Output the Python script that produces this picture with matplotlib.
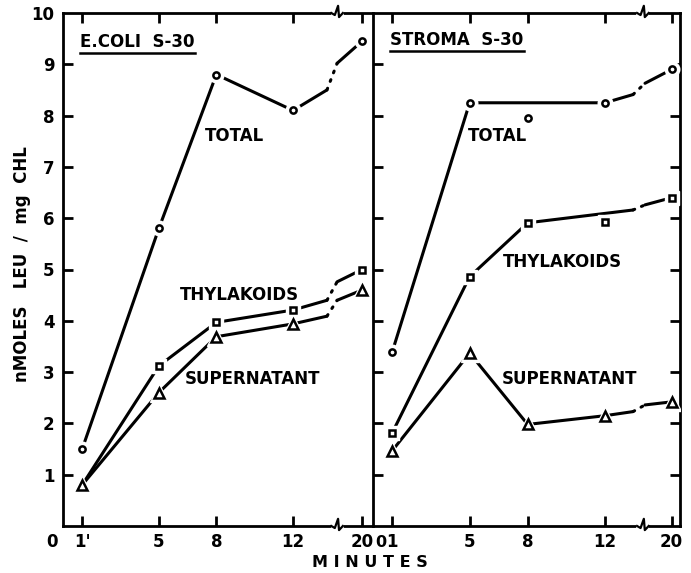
import matplotlib
matplotlib.use('Agg')
import matplotlib.pyplot as plt
from matplotlib.lines import Line2D

#%% data (nmoles leu / mg chl vs minutes)
minutes = [1, 5, 8, 12, 20]
xlabels_ecoli = ["1'", '5', '8', '12', '20']
xlabels_stroma = ['1', '5', '8', '12', '20']

ecoli_total = [1.5, 5.8, 8.8, 8.1, 9.45]
ecoli_thyl = [0.8, 3.12, 3.97, 4.21, 5.0]
ecoli_super = [0.8, 2.6, 3.69, 3.94, 4.6]

stroma_total = [3.4, 8.25, 7.95, 8.25, 8.9]
stroma_thyl = [1.82, 4.86, 5.91, 5.93, 6.4]
stroma_super = [1.47, 3.37, 1.98, 2.15, 2.42]

# levels where the dotted part across the axis break starts / ends
ecoli_brk_levels = {'total': (8.5, 9.02), 'thyl': (4.4, 4.76), 'super': (4.09, 4.4)}
stroma_brk_levels = {'total': (8.41, 8.63), 'thyl': (6.16, 6.26), 'super': (2.23, 2.36)}

#%% helpers
LW = 2.2


def xpos(t, p20):
    # broken axis: everything past 12 min is squeezed
    return t if t <= 12 else 12 + (t - 12) * (p20 - 12) / 8.0


def draw_series(ax, vals, marker, ms, p20, brk, levels, line_skip=(), marker_skip=()):
    xp = [xpos(t, p20) for t in minutes]
    on = [i for i in range(len(vals)) if i not in line_skip and minutes[i] <= 12]
    xs = [xp[i] for i in on] + [brk[0]]
    ys = [vals[i] for i in on] + [levels[0]]
    ax.plot(xs, ys, color='k', lw=LW, solid_capstyle='round', zorder=2)
    ax.plot([brk[0], brk[1]], levels, color='k', lw=LW, ls=(0, (0.6, 2.4)),
            dash_capstyle='round', zorder=2)
    ax.plot([brk[1], xp[-1]], [levels[1], vals[-1]], color='k', lw=LW,
            solid_capstyle='round', zorder=2)
    mx = [xp[i] for i in range(len(vals)) if i not in marker_skip]
    my = [vals[i] for i in range(len(vals)) if i not in marker_skip]
    ax.plot(mx, my, ls='none', marker=marker, ms=ms + 6, mfc='white', mec='white', zorder=3)
    ax.plot(mx, my, ls='none', marker=marker, ms=ms, mfc='white', mec='k', mew=1.8, zorder=4)


def break_mark(ax, xb):
    for y0, s in [(1.0, 1), (0.0, -1)]:
        tr = ax.get_xaxis_transform()
        ax.plot([xb - 0.18, xb + 0.18], [y0, y0], color='white', lw=4, transform=tr,
                clip_on=False, zorder=5)
        ax.plot([xb - 0.3, xb - 0.12, xb + 0.05, xb + 0.1, xb + 0.3],
                [y0, y0 - 0.004, y0 + 0.014, y0 - 0.008, y0],
                color='k', lw=1.6, transform=tr, clip_on=False, zorder=6)


def style_axis(ax, p20, labels, xmax):
    ax.set_xlim(0, xmax)
    ax.set_ylim(0, 10)
    ax.set_xticks([xpos(t, p20) for t in minutes])
    ax.set_xticklabels(labels, fontsize=12, fontweight='bold')
    ax.set_yticks(range(1, 10))
    ax.tick_params(axis='both', direction='in', length=7, width=2, top=True, bottom=True)
    ax.tick_params(axis='x', pad=5)
    for sp in ax.spines.values():
        sp.set_linewidth(2)


#%% figure
fig = plt.figure(figsize=(6.91, 5.73), dpi=100)
ax1 = fig.add_axes([63 / 691, 47 / 573, 309 / 691, 513 / 573])
ax2 = fig.add_axes([373 / 691, 47 / 573, 307 / 691, 513 / 573])

p20_l, brk_l = 15.6, (13.77, 14.3)
p20_r, brk_r = 15.45, (13.45, 14.07)

# E. coli panel
style_axis(ax1, p20_l, xlabels_ecoli, 16.12)
ax1.spines['right'].set_visible(False)
ax1.tick_params(axis='y', left=True, right=False, labelleft=True, pad=6)
ax1.set_yticks(range(1, 11))
ax1.set_yticklabels([str(v) for v in range(1, 11)], fontsize=12, fontweight='bold')
for tl in ax1.yaxis.get_major_ticks()[-1:]:
    tl.tick1line.set_visible(False)
ax1.text(-0.55, -0.32, '0', ha='center', va='center', fontsize=12, fontweight='bold',
         clip_on=False)

draw_series(ax1, ecoli_total, 'o', 4.5, p20_l, brk_l, ecoli_brk_levels['total'])
draw_series(ax1, ecoli_thyl, 's', 4.5, p20_l, brk_l, ecoli_brk_levels['thyl'], marker_skip=(0,))
draw_series(ax1, ecoli_super, '^', 6.5, p20_l, brk_l, ecoli_brk_levels['super'])
break_mark(ax1, 14.3)

# Stroma panel
style_axis(ax2, p20_r, xlabels_stroma, 15.88)
ax2.tick_params(axis='y', left=True, right=True, labelleft=False)
ax2.text(0.4, -0.32, '0', ha='center', va='center', fontsize=11.5, fontweight='bold',
         clip_on=False)

draw_series(ax2, stroma_total, 'o', 4.5, p20_r, brk_r, stroma_brk_levels['total'], line_skip=(2,))
draw_series(ax2, stroma_thyl, 's', 4.5, p20_r, brk_r, stroma_brk_levels['thyl'], line_skip=(3,))
draw_series(ax2, stroma_super, '^', 6.5, p20_r, brk_r, stroma_brk_levels['super'])
break_mark(ax2, 13.96)

#%% labels
kw = dict(fontsize=12, fontweight='bold', va='center', ha='left')
ax1.text(7.42, 7.6, 'TOTAL', **kw)
ax1.text(6.11, 4.5, 'THYLAKOIDS', **kw)
ax1.text(6.37, 2.87, 'SUPERNATANT', **kw)
ax2.text(4.93, 7.6, 'TOTAL', **kw)
ax2.text(6.74, 5.15, 'THYLAKOIDS', **kw)
ax2.text(6.68, 2.87, 'SUPERNATANT', **kw)

t1 = ax1.text(0.9, 9.43, 'E.COLI  S-30', **kw)
t2 = ax2.text(0.9, 9.47, 'STROMA  S-30', **kw)

fig.text(0.535, 0.019, 'M I N U T E S', ha='center', va='center', fontsize=11.5, fontweight='bold')
fig.text(0.032, 0.539, 'nMOLES   LEU  /  mg  CHL', rotation=90, ha='center', va='center',
         fontsize=12, fontweight='bold')

# underline the panel titles
fig.canvas.draw()
inv = fig.transFigure.inverted()
for t in (t1, t2):
    bb = t.get_window_extent(fig.canvas.get_renderer())
    (x0, y0), (x1, _) = inv.transform([(bb.x0, bb.y0 - 2), (bb.x1, bb.y0 - 2)])
    fig.add_artist(Line2D([x0, x1], [y0, y0], color='k', lw=1.8))

fig.savefig('out.png', dpi=100)
